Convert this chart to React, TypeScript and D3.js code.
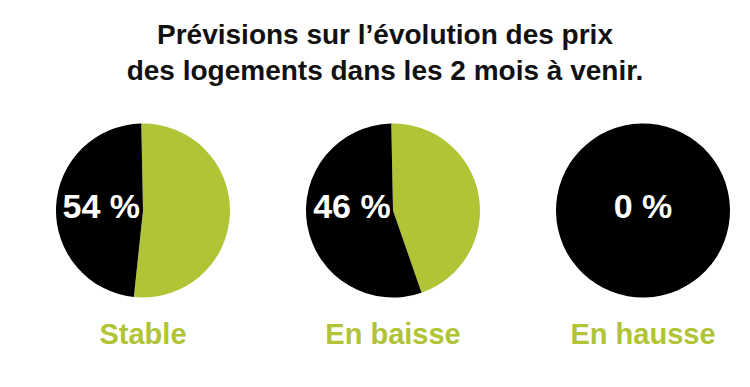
import React from 'react';
import * as d3 from 'd3';

// valeurs
const categories = ['Stable', 'En baisse', 'En hausse'];
const pctLabels = ['54 %', '46 %', '0 %'];
const greenShare = [52, 45, 0];
const blackShare = [48, 55, 100];
const titleLines = ['Prévisions sur l’évolution des prix', 'des logements dans les 2 mois à venir.'];

const GREEN = '#b0c436';
const W = 750;
const H = 387;
const R = 87;
const CY = 210.5;

const App = () => {
  const x = d3.scalePoint<string>().domain(categories).range([143, 643]);

  const pie = d3
    .pie<number>()
    .sort(null)
    .value((d) => d)
    .startAngle(-0.02)
    .endAngle(2 * Math.PI - 0.02);

  const arc = d3.arc<d3.PieArcDatum<number>>().innerRadius(0).outerRadius(R);
  const labelArc = d3.arc<d3.PieArcDatum<number>>().innerRadius(0).outerRadius(R * 0.96);

  return (
    <svg
      width={W}
      height={H}
      style={{ position: 'absolute', left: 0, top: 0, background: '#fff' }}
      fontFamily="'Liberation Sans', Arial, sans-serif"
    >
      <g textAnchor="middle" fontWeight="bold" fontSize={28} fill="#111">
        {titleLines.map((t, i) => (
          <text key={i} x={385} y={44 + i * 36}>
            {t}
          </text>
        ))}
      </g>

      {categories.map((c, i) => {
        const arcs = pie([greenShare[i], blackShare[i]]);
        const black = arcs[1];
        const full = black.endAngle - black.startAngle >= 2 * Math.PI - 1e-6;
        const lx = full ? 0 : labelArc.centroid(black)[0];
        return (
          <g key={c} transform={`translate(${x(c)},${CY})`}>
            {arcs.map((a, j) =>
              a.endAngle - a.startAngle > 0 ? (
                <path key={j} d={arc(a) || ''} fill={j === 0 ? GREEN : '#000'} />
              ) : null
            )}
            <text
              x={lx}
              y={7}
              textAnchor="middle"
              fill="#fff"
              fontWeight="bold"
              fontSize={34}
            >
              {pctLabels[i]}
            </text>
            <text y={344 - CY} textAnchor="middle" fill={GREEN} fontWeight="bold" fontSize={29}>
              {c}
            </text>
          </g>
        );
      })}
    </svg>
  );
};

export default App;
